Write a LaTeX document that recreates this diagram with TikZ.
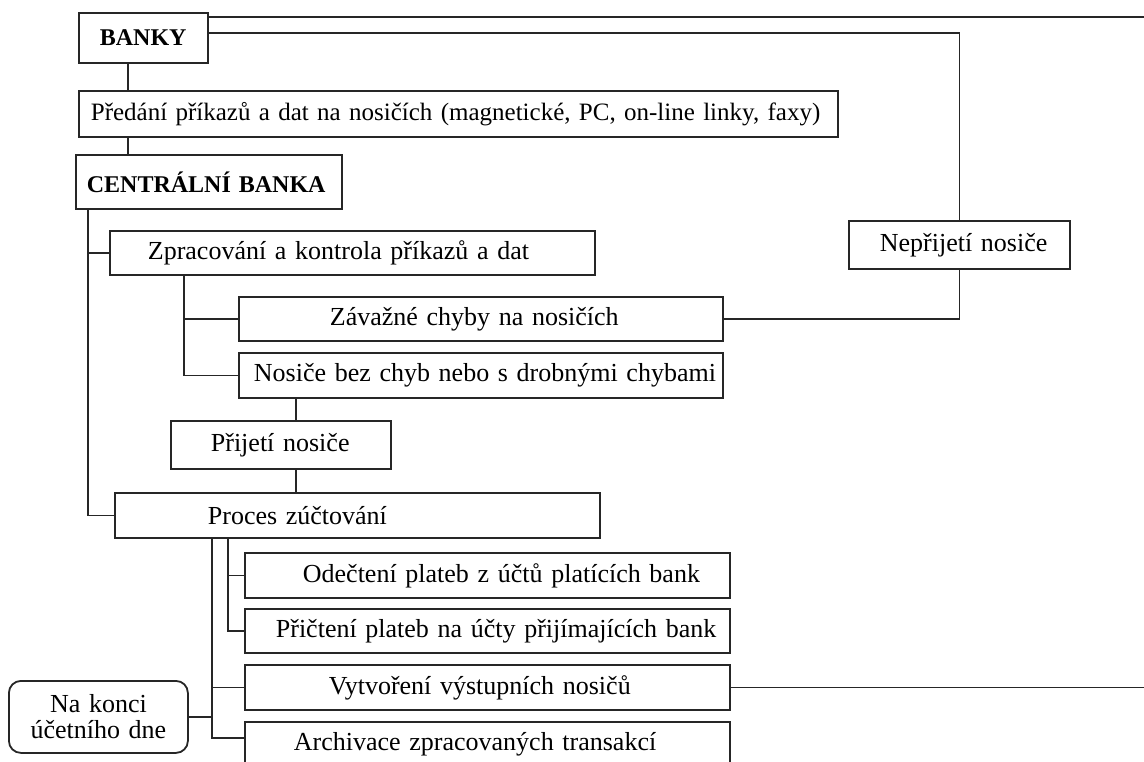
\documentclass[tikz,border=0pt]{standalone}
\usepackage{fontspec}
\setmainfont{Liberation Serif}
\begin{document}
\begin{tikzpicture}[x=1pt,y=-1pt,
  box/.style={draw=black!85, line width=1.8pt, anchor=north west, inner sep=0pt,
    align=left, font=\fontsize{26}{30}\selectfont},
  bbox/.style={box, font=\fontsize{24}{28}\selectfont\bfseries},
  rbox/.style={draw=black!85, line width=1.8pt, anchor=north west, inner sep=0pt,
    rounded corners=12pt, align=center, font=\fontsize{26}{26}\selectfont},
  conn/.style={draw=black!85, line width=1.8pt}]
\useasboundingbox (0,0) rectangle (1144,761);
\coordinate (R) at (1144,0);
% boxes
\node[bbox, text width=129pt, minimum height=50pt] (banky) at (78,12) {\hspace*{21pt}\mbox{BANKY}};
\node[box, text width=759pt, minimum height=46pt, font=\fontsize{25}{30}\selectfont] (predani) at (78,90)
  {\hspace*{12pt}\mbox{Předání příkazů a dat na nosičích (magnetické, PC, on-line linky, faxy)}};
\node[bbox, text width=266pt, minimum height=54pt] (cb) at (75,154) {\hspace*{11pt}\mbox{CENTRÁLNÍ BANKA}};
\node[box, text width=485pt, minimum height=44pt] (zprac) at (109,230)
  {\hspace*{38pt}\mbox{Zpracování a kontrola příkazů a dat}};
\node[box, text width=484pt, minimum height=44pt] (zavazne) at (238,296)
  {\hspace*{91pt}\mbox{Závažné chyby na nosičích}};
\node[box, text width=484pt, minimum height=45pt] (nosice) at (238,352)
  {\hspace*{15pt}\mbox{Nosiče bez chyb nebo s drobnými chybami}};
\node[box, text width=220pt, minimum height=48pt] (prijeti) at (170,420)
  {\hspace*{40pt}\mbox{Přijetí nosiče}};
\node[box, text width=485pt, minimum height=45pt] (proces) at (114,492)
  {\hspace*{93pt}\mbox{Proces zúčtování}};
\node[box, text width=485pt, minimum height=45pt] (odecteni) at (244,552)
  {\hspace*{58pt}\mbox{Odečtení plateb z účtů platících bank}};
\node[box, text width=485pt, minimum height=44pt] (pricteni) at (244,608)
  {\hspace*{31pt}\mbox{Přičtení plateb na účty přijímajících bank}};
\node[box, text width=485pt, minimum height=45pt] (vytvor) at (244,664)
  {\hspace*{84pt}\mbox{Vytvoření výstupních nosičů}};
\node[box, text width=485pt, minimum height=45pt] (archiv) at (244,721)
  {\hspace*{49pt}\mbox{Archivace zpracovaných transakcí}};
\node[box, text width=221pt, minimum height=48pt] (neprijeti) at (848,220)
  {\hspace*{31pt}\mbox{Nepřijetí nosiče}};
\node[rbox, text width=179pt, minimum height=72pt] (nakonci) at (8,680)
  {Na konci\\účetního dne};
% connectors
\draw[conn] ([xshift=50pt]banky.south west) -- ([xshift=50pt]predani.north west);
\draw[conn] ([xshift=50pt]predani.south west) -- ([xshift=53pt]cb.north west);
\draw[conn] ([yshift=-5pt]banky.north east) -- ([yshift=-5pt]banky.north east -| R);
\draw[conn] ([yshift=-21pt]banky.north east) -| (neprijeti.north);
\draw[conn] (neprijeti.south) |- (zavazne.east);
\coordinate (trunk) at ([xshift=13pt]cb.south west);
\draw[conn] (trunk) |- (proces.west);
\draw[conn] (trunk |- zprac.west) -- (zprac.west);
\coordinate (zt) at ([xshift=75pt]zprac.south west);
\draw[conn] (zt) |- (nosice.west);
\draw[conn] (zt |- zavazne.west) -- (zavazne.west);
\coordinate (nt) at ([xshift=58pt]nosice.south west);
\draw[conn] (nt) -- (nt |- prijeti.north);
\draw[conn] (nt |- prijeti.south) -- (nt |- proces.north);
\coordinate (pa) at ([xshift=98pt]proces.south west);
\coordinate (pb) at ([xshift=114pt]proces.south west);
\draw[conn] (pb) |- (pricteni.west);
\draw[conn] (pb |- odecteni.west) -- (odecteni.west);
\coordinate (aw) at ([yshift=-17pt]archiv.north west);
\draw[conn] (pa) |- (aw);
\draw[conn] (pa |- vytvor.west) -- (vytvor.west);
\draw[conn] (nakonci.east) -- (nakonci.east -| pa);
\draw[conn] (vytvor.east) -- (vytvor.east -| R);
\end{tikzpicture}
\end{document}
